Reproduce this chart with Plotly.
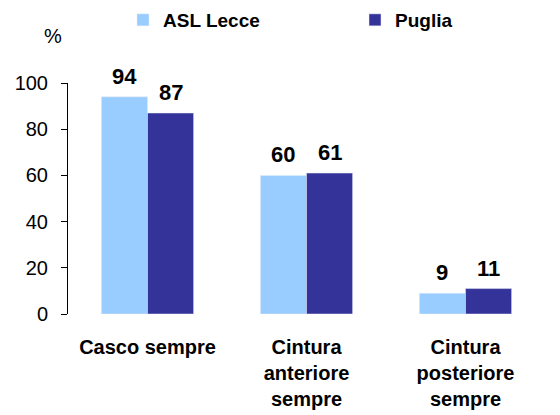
import plotly.graph_objs as go

categories = ["Casco sempre", "Cintura<br>anteriore<br>sempre", "Cintura<br>posteriore<br>sempre"]
asl_lecce  = [94, 60, 9]
puglia     = [87, 61, 11]

FONT  = "Arial, 'Liberation Sans', sans-serif"
LIGHT = "#99CCFF"
DARK  = "#333399"

fig = go.Figure()
fig.add_trace(go.Bar(x=[f"<b>{c}</b>" for c in categories], y=asl_lecce,
                     name="<b>ASL Lecce</b>", marker_color=LIGHT, legend="legend"))
fig.add_trace(go.Bar(x=[f"<b>{c}</b>" for c in categories], y=puglia,
                     name="<b>Puglia</b>", marker_color=DARK, legend="legend2"))

## value labels above each bar
half = 0.145
for i, (a, p) in enumerate(zip(asl_lecce, puglia)) : #{
    for dx, v in ((-half, a), (half, p)) : #{
        fig.add_annotation(x=i + dx, y=v, xref="x", yref="y", text=f"<b>{v}</b>",
                           showarrow=False, yanchor="bottom", yshift=6,
                           font=dict(size=22, color="black", family=FONT))
    #}
#}

## page body has an 8px margin -> figure is 552x407, plot area at window px x 68..545, y 83..314
fig.add_annotation(xref="paper", yref="paper", x=(53 - 68) / 477, y=1 + (83 - 36) / 231,
                   xanchor="center", yanchor="middle",
                   text="%", showarrow=False, font=dict(size=20, color="black", family=FONT))

leg = dict(orientation="h", xanchor="left", yanchor="middle", y=1 + (83 - 20) / 231,
           font=dict(size=19, family=FONT, color="black"), bgcolor="rgba(0,0,0,0)")

fig.update_layout(width=552, height=407,
                  margin=dict(l=60, r=15, t=75, b=101, autoexpand=False),
                  paper_bgcolor="white", plot_bgcolor="white",
                  font=dict(family=FONT, color="black"),
                  bargap=0.42, bargroupgap=0,
                  legend=dict(leg, x=(123 - 68) / 477),
                  legend2=dict(leg, x=(355 - 68) / 477),
                  showlegend=True)

fig.update_xaxes(showline=False, showgrid=False, zeroline=False, ticks="",
                 tickfont=dict(size=20, family=FONT), ticklabelstandoff=19)
fig.update_yaxes(range=[0, 100], dtick=20, showline=True, linecolor="black", linewidth=1,
                 ticks="outside", ticklen=6, tickcolor="black", showgrid=False, zeroline=False,
                 tickfont=dict(size=20, family=FONT), ticklabelstandoff=9)

fig.write_html("out.html")
